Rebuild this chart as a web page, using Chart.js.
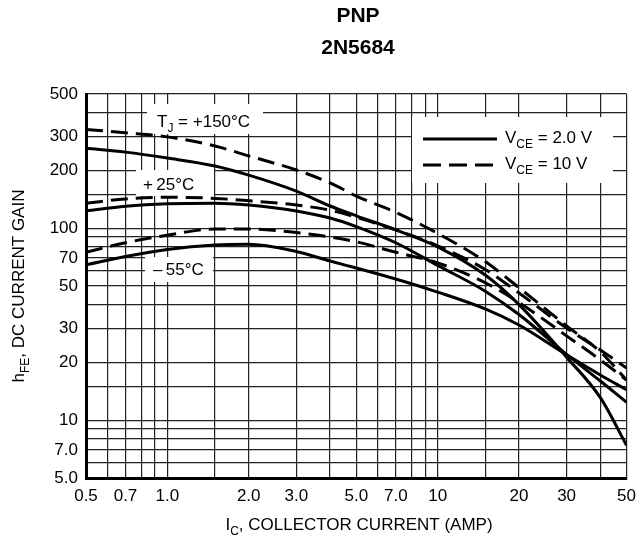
<!DOCTYPE html>
<html>
<head>
<meta charset="utf-8">
<script src="https://cdn.jsdelivr.net/npm/chart.js@4.4.1/dist/chart.umd.min.js"></script>
<style>
  html, body { margin: 0; padding: 0; background: #fff; }
  #wrap { width: 644px; height: 542px; position: relative; }
</style>
</head>
<body>
<div id="wrap"><canvas id="gain-chart"></canvas></div>
<script>
// Datos (hFE vs IC, 2N5684 PNP)
const currentA = [0.5, 0.7, 1.0, 1.5, 2, 3, 4, 5, 7, 10, 15, 20, 30, 40, 50];
const gain150_2V = [261, 249, 232, 211, 189, 156, 130.5, 116, 98, 80, 57, 40, 21.3, 13.1, 7.4];
const gain150_10V = [327, 314, 299, 268, 238, 201, 172, 147, 121, 94, 67, 49, 31, 22.7, 16.2];
const gain25_2V = [123, 130, 134, 135, 132, 123, 113, 102, 84, 64, 47, 35.5, 22, 16, 12.4];
const gain25_10V = [135, 142, 145, 143, 139, 132, 124, 114, 98, 81, 61, 46, 30.2, 23.2, 18.7];
const gainM55_2V = [64.4, 71.2, 77.5, 81.8, 82.5, 75.6, 67.5, 62, 54.4, 46.5, 38, 31.3, 21.9, 17.2, 14.4];
const gainM55_10V = [75, 84, 92, 99, 99, 95, 90, 85, 75, 66, 52, 41, 27.5, 20.6, 16.2];

// Rejilla y etiquetas de los ejes
const xGrid = [0.5, 0.6, 0.7, 0.8, 0.9, 1, 1.5, 2, 3, 4, 5, 6, 7, 8, 9, 10, 15, 20, 30, 40, 50];
const xLabels = { 0.5: '0.5', 0.7: '0.7', 1: '1.0', 2: '2.0', 3: '3.0', 5: '5.0', 7: '7.0', 10: '10', 20: '20', 30: '30', 50: '50' };
const yGrid = [5, 6, 7, 8, 9, 10, 15, 20, 30, 40, 50, 60, 70, 80, 90, 100, 150, 200, 300, 400, 500];
const yLabels = { 5: '5.0', 7: '7.0', 10: '10', 20: '20', 30: '30', 50: '50', 70: '70', 100: '100', 200: '200', 300: '300', 500: '500' };

const FONT = '"Liberation Sans", Arial, Helvetica, sans-serif';
const DASH = [17, 8];

function toPoints(ys) {
  return currentA.map((x, i) => ({ x: x, y: ys[i] }));
}

function curve(ys, dashed) {
  return {
    data: toPoints(ys),
    borderColor: '#000',
    borderWidth: 3,
    borderDash: dashed ? DASH : [],
    pointRadius: 0,
    fill: false,
    cubicInterpolationMode: 'monotone'
  };
}

// Texto con subíndices: parts = [[texto, esSub], ...]
function partsWidth(ctx, parts, size) {
  let w = 0;
  parts.forEach(p => {
    ctx.font = (p[1] ? Math.round(size * 0.7) : size) + 'px ' + FONT;
    w += ctx.measureText(p[0]).width;
  });
  return w;
}

function drawParts(ctx, parts, x, y, size) {
  let cx = x;
  ctx.textAlign = 'left';
  ctx.textBaseline = 'alphabetic';
  parts.forEach(p => {
    ctx.font = (p[1] ? Math.round(size * 0.7) : size) + 'px ' + FONT;
    ctx.fillText(p[0], cx, p[1] ? y + 5 : y);
    cx += ctx.measureText(p[0]).width;
  });
}

const labelPlugin = {
  id: 'labels',
  beforeDatasetsDraw(chart) {
    const ctx = chart.ctx;
    ctx.save();
    ctx.fillStyle = '#fff';
    ctx.fillRect(147, 104, 116, 30);   // TJ = +150
    ctx.fillRect(136, 170, 78, 26);    // +25
    ctx.fillRect(145, 257, 68, 25);    // -55
    ctx.fillRect(412, 117, 201, 66);   // leyenda
    ctx.restore();
  },
  afterDraw(chart) {
    const ctx = chart.ctx;
    ctx.save();
    ctx.fillStyle = '#000';

    // Títulos
    ctx.textAlign = 'center';
    ctx.textBaseline = 'alphabetic';
    ctx.font = 'bold 21px ' + FONT;
    ctx.fillText('PNP', 358, 22);
    ctx.fillText('2N5684', 358, 54);

    // Etiquetas de temperatura
    drawParts(ctx, [['T', false], ['J', true], [' = +150°C', false]], 157, 127, 17);
    drawParts(ctx, [['+\u200925°C', false]], 143, 190, 17);
    drawParts(ctx, [['\u2013\u200955°C', false]], 153, 275, 17);

    // Leyenda
    ctx.strokeStyle = '#000';
    ctx.lineWidth = 3;
    ctx.beginPath();
    ctx.moveTo(423, 139);
    ctx.lineTo(497, 139);
    ctx.stroke();
    ctx.setLineDash([18, 8]);
    ctx.beginPath();
    ctx.moveTo(423, 165);
    ctx.lineTo(497, 165);
    ctx.stroke();
    ctx.setLineDash([]);
    drawParts(ctx, [['V', false], ['CE', true], [' = 2.0 V', false]], 505, 143, 17);
    drawParts(ctx, [['V', false], ['CE', true], [' = 10 V', false]], 505, 169, 17);

    // Título eje X
    const xt = [['I', false], ['C', true], [', COLLECTOR CURRENT (AMP)', false]];
    const xw = partsWidth(ctx, xt, 17);
    drawParts(ctx, xt, 359 - xw / 2, 530, 17);

    // Título eje Y (rotado)
    const yt = [['h', false], ['FE', true], [', DC CURRENT GAIN', false]];
    const yw = partsWidth(ctx, yt, 17);
    ctx.translate(24, 286);
    ctx.rotate(-Math.PI / 2);
    drawParts(ctx, yt, -yw / 2, 0, 17);

    ctx.restore();
  }
};

const gridOpts = { color: '#222', lineWidth: 1.2, drawTicks: false };
const borderOpts = { display: true, color: '#000', width: 3 };

const chart = new Chart(document.getElementById('gain-chart'), {
  type: 'line',
  data: {
    datasets: [
      curve(gain150_10V, true),
      curve(gain150_2V, false),
      curve(gain25_10V, true),
      curve(gain25_2V, false),
      curve(gainM55_10V, true),
      curve(gainM55_2V, false)
    ]
  },
  options: {
    responsive: true,
    maintainAspectRatio: false,
    animation: false,
    layout: { padding: { top: 94, right: 11, left: 0, bottom: 0 } },
    plugins: { legend: { display: false }, tooltip: { enabled: false } },
    scales: {
      x: {
        type: 'logarithmic',
        min: 0.5,
        max: 50,
        grid: gridOpts,
        border: borderOpts,
        afterBuildTicks: s => { s.ticks = xGrid.map(v => ({ value: v })); },
        afterFit: s => { s.height = 64; },
        ticks: {
          autoSkip: false,
          maxRotation: 0,
          padding: 8,
          color: '#000',
          font: { family: FONT, size: 17 },
          callback: v => xLabels[v] || ''
        }
      },
      y: {
        type: 'logarithmic',
        min: 5,
        max: 500,
        grid: gridOpts,
        border: borderOpts,
        afterBuildTicks: s => { s.ticks = yGrid.map(v => ({ value: v })); },
        afterFit: s => { s.width = 86; },
        ticks: {
          autoSkip: false,
          padding: 8,
          color: '#000',
          font: { family: FONT, size: 17 },
          callback: v => yLabels[v] || ''
        }
      }
    }
  },
  plugins: [labelPlugin]
});
</script>
</body>
</html>
